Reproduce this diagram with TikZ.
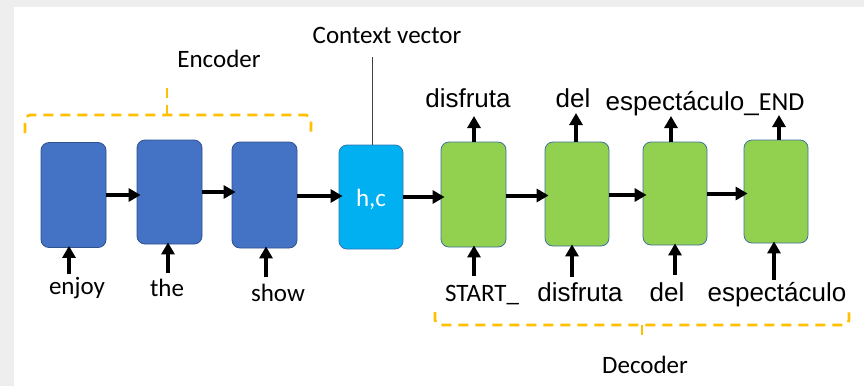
\documentclass[tikz,border=0pt]{standalone}
\usepackage{fontspec}
\setmainfont{Liberation Sans}
\newfontfamily\calfont{Carlito}
\usetikzlibrary{arrows.meta}
\definecolor{encfill}{HTML}{4472C4}
\definecolor{encline}{HTML}{2F528F}
\definecolor{decfill}{HTML}{92D050}
\definecolor{decline}{HTML}{41719C}
\definecolor{ctxfill}{HTML}{00B0F0}
\definecolor{ctxline}{HTML}{2E75B6}
\definecolor{bracecol}{HTML}{FFC000}
\definecolor{pagegray}{HTML}{EEEEEE}
\tikzset{
  cell/.style={rounded corners=8pt, line width=0.8pt, inner sep=0pt,
    minimum width=65pt, minimum height=105pt},
  enccell/.style={cell, fill=encfill, draw=encline},
  deccell/.style={cell, fill=decfill, draw=decline},
  ctxcell/.style={cell, fill=ctxfill, draw=ctxline, minimum width=64pt, minimum height=104pt},
  arr/.style={line width=4pt, -{Triangle[length=12pt,width=13pt]}},
  harr/.style={arr, shorten >=-4pt},
  callab/.style={font=\calfont\fontsize{25}{30}\selectfont, anchor=base, inner sep=0pt},
  arlab/.style={font=\fontsize{26}{31}\selectfont, anchor=base, inner sep=0pt},
  brace/.style={draw=bracecol, line width=2.7pt, dash pattern=on 10pt off 7pt}
}
\begin{document}
\begin{tikzpicture}[x=1pt, y=-1pt]
  \useasboundingbox (0,0) rectangle (864,386);
  \fill[pagegray] (0,0) rectangle (864,386);
  \fill[white] (14,7) rectangle (864,386);

  % encoder cells
  \node[enccell] (e1) at (73.5,195) {};
  \node[enccell, minimum height=104pt] (e2) at (169.5,192) {};
  \node[enccell, minimum height=106pt] (e3) at (264.5,195) {};
  % context vector
  \node[ctxcell] (hc) at (371,197) {};
  \node[callab, text=white] at (371,206) {h,c};
  % decoder cells
  \node[deccell] (d1) at (473.5,194.5) {};
  \node[deccell, minimum width=64pt, minimum height=104pt] (d2) at (577,194) {};
  \node[deccell, minimum width=64pt, minimum height=103pt] (d3) at (675,193.5) {};
  \node[deccell, minimum width=64pt, minimum height=103pt] (d4) at (776,191.5) {};

  % recurrent connections
  \draw[harr] (e1.east) -- (e1.east -| e2.west);
  \draw[harr] (e2.east) -- (e2.east -| e3.west);
  \draw[harr] ([yshift=-1pt]e3.east) -- ([yshift=-1pt]e3.east -| hc.west);
  \draw[harr] (hc.east) -- (hc.east -| d1.west);
  \draw[harr] ([yshift=-1pt]d1.east) -- ([yshift=-1pt]d1.east -| d2.west);
  \draw[harr] ([yshift=-1pt]d2.east) -- ([yshift=-1pt]d2.east -| d3.west);
  \draw[harr] (d3.east) -- (d3.east -| d4.west);

  % encoder inputs
  \node[callab] (w1) at (77,294) {enjoy};
  \node[callab] (w2) at (167,296) {the};
  \node[callab] (w3) at (278,301) {show};
  \coordinate (i1) at (69,274);
  \coordinate (i2) at (168,273);
  \coordinate (i3) at (266,277);
  \draw[arr] (i1) -- ([yshift=2pt]i1 |- e1.south);
  \draw[arr] (i2) -- ([yshift=2pt]i2 |- e2.south);
  \draw[arr] (i3) -- ([yshift=2pt]i3 |- e3.south);

  % decoder inputs
  \node[callab] (s1) at (482,301) {START\_};
  \node[arlab] (s2) at (580,301) {disfruta};
  \node[arlab] (s3) at (667,301) {del};
  \node[arlab] (s4) at (777,301) {espectáculo};
  \coordinate (j1) at (474,276);
  \coordinate (j2) at (572,277);
  \coordinate (j3) at (675,275);
  \coordinate (j4) at (774,280);
  \draw[arr] (j1) -- ([yshift=2pt]j1 |- d1.south);
  \draw[arr] (j2) -- ([yshift=2pt]j2 |- d2.south);
  \draw[arr] (j3) -- ([yshift=2pt]j3 |- d3.south);
  \draw[arr] (j4) -- ([yshift=2pt]j4 |- d4.south);

  % decoder outputs
  \node[arlab] (o1) at (468,107) {disfruta};
  \node[arlab] (o2) at (573,107) {del};
  \node[arlab] (o3) at (705,110) {espectáculo\_{\calfont END}};
  \coordinate (k1) at (474,116);
  \coordinate (k2) at (576,113);
  \coordinate (k3) at (671,116);
  \coordinate (k4) at (779,115);
  \draw[arr] (k1 |- d1.north) -- (k1);
  \draw[arr] (k2 |- d2.north) -- (k2);
  \draw[arr] (k3 |- d3.north) -- (k3);
  \draw[arr] (k4 |- d4.north) -- (k4);

  % context vector label
  \node[callab] (ctx) at (387,43) {Context vector};
  \coordinate (c0) at (372,57);
  \draw[line width=1pt, draw=black!75] (c0) -- (c0 |- hc.north);

  % encoder bracket
  \node[callab] (enc) at (219,67) {Encoder};
  \draw[brace, rounded corners=5pt] (25,133) -- (25,115) -- (311,115) -- (311,133);
  \draw[brace] (167,115) -- (167,83);

  % decoder bracket
  \node[callab] (dec) at (645,373) {Decoder};
  \draw[brace, rounded corners=5pt] (435,312) -- (435,325) -- (849,325) -- (849,312);
  \draw[brace] (642,325) -- (642,339);
\end{tikzpicture}
\end{document}
